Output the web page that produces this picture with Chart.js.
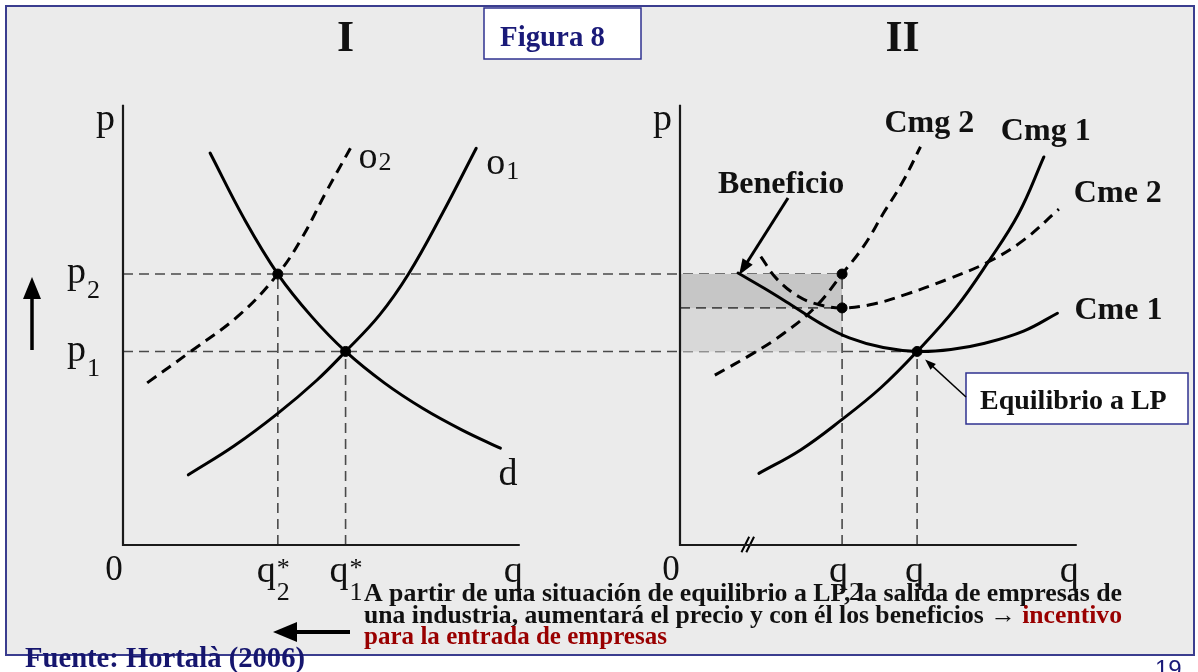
<!DOCTYPE html>
<html lang="es">
<head>
<meta charset="utf-8">
<title>Figura 8</title>
<script src="https://cdn.jsdelivr.net/npm/chart.js@4.4.1/dist/chart.umd.min.js"></script>
<style>
  html, body { margin: 0; padding: 0; background: #ffffff; }
  #wrap { position: relative; width: 1198px; height: 672px; overflow: hidden; }
  #frame { position: absolute; left: 5px; top: 5px; width: 1190px; height: 651px;
           box-sizing: border-box; border: 2px solid #3a3d8f; background: #ebebeb; }
  #c { position: absolute; left: 0; top: 0; }
</style>
</head>
<body>
<div id="wrap">
  <div id="frame"></div>
  <canvas id="c" width="1198" height="672"></canvas>
</div>
<script>
// ---- price levels and quantities ----
const P2 = 5.6;          // higher price after firms leave
const P1 = 4.0;          // long-run equilibrium price
const CME2_MIN = 4.9;    // minimum of Cme 2
const Q2_STAR = 3.2, Q1_STAR = 4.6;   // industry quantities (panel I)
const Q2 = 3.35, Q1 = 4.9;            // firm quantities (panel II)
const AXIS_TOP = 9.1, AXIS_END = 8.2;

// ---- panel I: industry ----
const demandD  = [[1.8, 8.1], [2.5, 6.75], [3.2, 5.6], [3.9, 4.72], [4.6, 4.0], [5.4, 3.35], [6.2, 2.82], [7.0, 2.38], [7.8, 2.0]];
const supplyO1 = [[1.35, 1.45], [2.3, 2.05], [3.2, 2.72], [4.0, 3.4], [4.6, 4.0], [5.3, 4.75], [5.9, 5.6], [6.6, 6.85], [7.3, 8.2]];
const supplyO2 = [[0.5, 3.35], [1.4, 4.0], [2.4, 4.75], [3.2, 5.6], [3.7, 6.35], [4.2, 7.3], [4.7, 8.2]];

// ---- panel II: firm ----
const cme1 = [[1.2, 5.62], [1.75, 5.3], [2.3, 4.96], [2.9, 4.58], [3.5, 4.28], [4.2, 4.08], [4.9, 4.0], [5.6, 4.04], [6.3, 4.17], [7.1, 4.42], [7.8, 4.79]];
const cmg1 = [[1.63, 1.48], [2.5, 1.97], [3.33, 2.58], [4.15, 3.25], [4.9, 4.0], [5.7, 4.9], [6.37, 5.85], [7.0, 6.85], [7.52, 8.02]];
const cme2 = [[1.67, 5.96], [2.0, 5.5], [2.46, 5.13], [2.9, 4.96], [3.35, 4.9], [4.0, 4.98], [4.67, 5.18], [5.5, 5.48], [6.37, 5.85], [7.1, 6.3], [7.83, 6.94]];
const cmg2 = [[0.72, 3.51], [1.51, 3.96], [2.14, 4.37], [2.8, 4.92], [3.35, 5.6], [3.8, 6.18], [4.2, 6.85], [4.6, 7.5], [4.97, 8.23]];

const pointsI  = [[Q2_STAR, P2], [Q1_STAR, P1]];
const pointsII = [[Q2, P2], [Q2, CME2_MIN], [Q1, P1]];

// ---- text ----
const titleI = 'I', titleII = 'II';
const figTitle = 'Figura 8';
const noteLines = [
  [{ t: 'A partir de una situación de equilibrio a LP, la salida de empresas de', c: '#111111' }],
  [{ t: 'una industria, aumentará el precio y con él los beneficios → ', c: '#111111' }, { t: 'incentivo', c: '#990000' }],
  [{ t: 'para la entrada de empresas', c: '#990000' }]
];
const source = 'Fuente: Hortalà (2006)';
const pageNo = '19';

// ---- scale geometry (same units on both axes) ----
const PAD = { left: 123, right: 98, top: 95, bottom: 127 };
const Y_MAX = 9.3;
const UNIT = (672 - PAD.top - PAD.bottom) / Y_MAX;
const X_MAX = (1198 - PAD.left - PAD.right) / UNIT;
const X2_MIN = -557 / UNIT;
const X2_MAX = X_MAX + X2_MIN;

const serif = '"Liberation Serif", "Times New Roman", serif';
const xy = arr => arr.map(([x, y]) => ({ x, y }));

function curve(data, axis, extra) {
  return Object.assign({
    data: xy(data), xAxisID: axis, showLine: true, borderColor: '#000', borderWidth: 3,
    pointRadius: 0, fill: false, clip: false, tension: 0.4, borderCapStyle: 'round'
  }, extra || {});
}
function straight(data, axis, extra) {
  return curve(data, axis, Object.assign({ tension: 0, borderCapStyle: 'butt' }, extra || {}));
}
const GUIDE = { borderColor: '#4a4a4a', borderWidth: 1.6, borderDash: [10, 6] };
const DASH = { borderDash: [11, 7], borderCapStyle: 'butt' };

const datasets = [
  // shaded benefit area
  straight([[0, P2], [Q2, P2]], 'x2', { borderWidth: 0, fill: { value: CME2_MIN }, backgroundColor: '#c6c6c6', order: 10 }),
  straight([[0, CME2_MIN], [Q2, CME2_MIN]], 'x2', { borderWidth: 0, fill: { value: P1 }, backgroundColor: '#d8d8d8', order: 10 }),
  // guides inside each panel
  straight([[Q2_STAR, 0], [Q2_STAR, P2]], 'x', Object.assign({ order: 5 }, GUIDE)),
  straight([[Q1_STAR, 0], [Q1_STAR, P1]], 'x', Object.assign({ order: 5 }, GUIDE)),
  straight([[Q2, 0], [Q2, P2]], 'x2', Object.assign({ order: 5 }, GUIDE)),
  straight([[Q1, 0], [Q1, P1]], 'x2', Object.assign({ order: 5 }, GUIDE)),
  straight([[0, CME2_MIN], [Q2, CME2_MIN]], 'x2', Object.assign({ order: 5 }, GUIDE)),
  // axes
  straight([[0, AXIS_TOP], [0, 0], [AXIS_END, 0]], 'x', { borderColor: '#1a1a1a', borderWidth: 2.2, order: 4 }),
  straight([[0, AXIS_TOP], [0, 0], [AXIS_END, 0]], 'x2', { borderColor: '#1a1a1a', borderWidth: 2.2, order: 4 }),
  // axis break
  straight([[1.27, -0.15], [1.43, 0.17]], 'x2', { borderWidth: 2, order: 4 }),
  straight([[1.37, -0.15], [1.53, 0.17]], 'x2', { borderWidth: 2, order: 4 }),
  // panel I curves
  curve(demandD, 'x', { order: 2 }),
  curve(supplyO1, 'x', { order: 2 }),
  curve(supplyO2, 'x', Object.assign({ order: 2 }, DASH)),
  // panel II curves
  curve(cme1, 'x2', { order: 2 }),
  curve(cmg1, 'x2', { order: 2 }),
  curve(cme2, 'x2', Object.assign({ order: 2 }, DASH)),
  curve(cmg2, 'x2', Object.assign({ order: 2 }, DASH)),
  // equilibrium points
  { data: xy(pointsI), xAxisID: 'x', showLine: false, pointRadius: 5, pointBackgroundColor: '#000', pointBorderColor: '#000', clip: false, order: 0 },
  { data: xy(pointsII), xAxisID: 'x2', showLine: false, pointRadius: 5, pointBackgroundColor: '#000', pointBorderColor: '#000', clip: false, order: 0 }
];

function text(ctx, s, x, y, size, o) {
  o = o || {};
  ctx.save();
  ctx.font = (o.bold ? 'bold ' : '') + size + 'px ' + (o.family || serif);
  ctx.fillStyle = o.color || '#111';
  ctx.textAlign = o.align || 'left';
  ctx.textBaseline = 'alphabetic';
  ctx.fillText(s, x, y);
  const w = ctx.measureText(s).width;
  ctx.restore();
  return w;
}
// letter with optional subscript / superscript
function symbol(ctx, base, sub, sup, x, y, subDy) {
  const w = text(ctx, base, x, y, 38);
  if (sub) text(ctx, sub, x + w + 1, y + (subDy == null ? 18 : subDy), 26);
  if (sup) text(ctx, sup, x + w + 1, y - 6, 26);
}
function arrowHead(ctx, x1, y1, x2, y2, len, half) {
  const a = Math.atan2(y2 - y1, x2 - x1);
  ctx.beginPath();
  ctx.moveTo(x2, y2);
  ctx.lineTo(x2 - len * Math.cos(a) + half * Math.sin(a), y2 - len * Math.sin(a) - half * Math.cos(a));
  ctx.lineTo(x2 - len * Math.cos(a) - half * Math.sin(a), y2 - len * Math.sin(a) + half * Math.cos(a));
  ctx.closePath();
  ctx.fill();
}
function arrow(ctx, x1, y1, x2, y2, width, len, half) {
  const a = Math.atan2(y2 - y1, x2 - x1);
  ctx.save();
  ctx.strokeStyle = '#000'; ctx.fillStyle = '#000'; ctx.lineWidth = width;
  ctx.beginPath(); ctx.moveTo(x1, y1); ctx.lineTo(x2 - len * 0.8 * Math.cos(a), y2 - len * 0.8 * Math.sin(a)); ctx.stroke();
  arrowHead(ctx, x1, y1, x2, y2, len, half);
  ctx.restore();
}
function fittedLine(ctx, parts, x, y, size, width) {
  ctx.save();
  ctx.font = 'bold ' + size + 'px ' + serif;
  const total = parts.reduce((s, p) => s + ctx.measureText(p.t).width, 0);
  ctx.translate(x, y);
  ctx.scale(width / total, 1);
  let cx = 0;
  parts.forEach(p => { ctx.fillStyle = p.c; ctx.fillText(p.t, cx, 0); cx += ctx.measureText(p.t).width; });
  ctx.restore();
}

const crossGuides = {
  id: 'crossGuides',
  beforeDatasetsDraw(chart) {
    const { ctx } = chart, s = chart.scales;
    ctx.save();
    ctx.strokeStyle = GUIDE.borderColor; ctx.lineWidth = GUIDE.borderWidth; ctx.setLineDash(GUIDE.borderDash);
    // p2 and p1 run from the industry axis across to the firm's quantities
    ctx.beginPath();
    ctx.moveTo(s.x.getPixelForValue(0), s.y.getPixelForValue(P2));
    ctx.lineTo(s.x2.getPixelForValue(Q2), s.y.getPixelForValue(P2));
    ctx.moveTo(s.x.getPixelForValue(0), s.y.getPixelForValue(P1));
    ctx.lineTo(s.x2.getPixelForValue(Q1), s.y.getPixelForValue(P1));
    ctx.stroke();
    ctx.restore();
  }
};

const annotations = {
  id: 'annotations',
  afterDatasetsDraw(chart) {
    const { ctx } = chart, s = chart.scales;
    const X1 = v => s.x.getPixelForValue(v), X2 = v => s.x2.getPixelForValue(v), Y = v => s.y.getPixelForValue(v);

    // panel titles
    text(ctx, titleI, X1(4.6), 51, 44, { bold: true, align: 'center' });
    text(ctx, titleII, X2(4.6), 51, 44, { bold: true, align: 'center' });

    // panel I axis labels
    symbol(ctx, 'p', null, null, X1(0) - 27, Y(AXIS_TOP) + 25);
    symbol(ctx, 'p', '2', null, X1(0) - 56, Y(P2) + 9, 15);
    symbol(ctx, 'p', '1', null, X1(0) - 56, Y(P1) + 10, 15);
    text(ctx, '0', X1(0) - 9, Y(0) + 35, 35, { align: 'center' });
    symbol(ctx, 'q', '2', '*', X1(Q2_STAR) - 21, Y(0) + 37);
    symbol(ctx, 'q', '1', '*', X1(Q1_STAR) - 16, Y(0) + 37);
    symbol(ctx, 'q', null, null, X1(AXIS_END) - 16, Y(0) + 37);

    // panel I curve labels
    const o2End = supplyO2[supplyO2.length - 1], o1End = supplyO1[supplyO1.length - 1], dEnd = demandD[demandD.length - 1];
    symbol(ctx, 'o', '2', null, X1(o2End[0]) + 8, Y(o2End[1]) + 20, 2);
    symbol(ctx, 'o', '1', null, X1(o1End[0]) + 10, Y(o1End[1]) + 26, 5);
    symbol(ctx, 'd', null, null, X1(dEnd[0]) - 2, Y(dEnd[1]) + 37);

    // panel II axis labels
    symbol(ctx, 'p', null, null, X2(0) - 27, Y(AXIS_TOP) + 25);
    text(ctx, '0', X2(0) - 9, Y(0) + 35, 35, { align: 'center' });
    symbol(ctx, 'q', '2', null, X2(Q2) - 13, Y(0) + 37);
    symbol(ctx, 'q', '1', null, X2(Q1) - 12, Y(0) + 37);
    symbol(ctx, 'q', null, null, X2(AXIS_END) - 17, Y(0) + 37);

    // panel II curve labels
    const lbl = (arr, t, dx, dy) => { const e = arr[arr.length - 1]; text(ctx, t, X2(e[0]) + dx, Y(e[1]) + dy, 32, { bold: true }); };
    lbl(cmg2, 'Cmg 2', -36, -15);
    lbl(cmg1, 'Cmg 1', -43, -17);
    lbl(cme2, 'Cme 2', 15, -7);
    lbl(cme1, 'Cme 1', 17, 6);

    // Beneficio label and pointer
    text(ctx, 'Beneficio', 718, 193, 32, { bold: true });
    arrow(ctx, 788, 198, X2(cme1[0][0]) + 1, Y(P2) + 1, 3, 16, 6);

    // Equilibrio a LP box and pointer
    ctx.save();
    ctx.fillStyle = '#ffffff'; ctx.strokeStyle = '#2f3290'; ctx.lineWidth = 1.5;
    ctx.fillRect(966, 373, 222, 51); ctx.strokeRect(966, 373, 222, 51);
    ctx.restore();
    text(ctx, 'Equilibrio a LP', 980, 409, 28, { bold: true });
    arrow(ctx, 966, 397, X2(Q1) + 8, Y(P1) + 8, 1.5, 11, 4);

    // Figura 8 box
    ctx.save();
    ctx.fillStyle = '#ffffff'; ctx.strokeStyle = '#2f3290'; ctx.lineWidth = 1.5;
    ctx.fillRect(484, 8, 157, 51); ctx.strokeRect(484, 8, 157, 51);
    ctx.restore();
    fittedLine(ctx, [{ t: figTitle, c: '#1a1a78' }], 500, 46, 29, 105);

    // direction arrows
    arrow(ctx, 32, 350, 32, 277, 3.5, 22, 9);
    arrow(ctx, 350, 632, 273, 632, 4, 24, 10);

    // note
    fittedLine(ctx, noteLines[0], 364, 601, 25, 758);
    fittedLine(ctx, noteLines[1], 364, 623, 25, 758);
    fittedLine(ctx, noteLines[2], 364, 644, 25, 303);

    // source and page number
    fittedLine(ctx, [{ t: source, c: '#16166e' }], 25, 667, 29, 280);
    text(ctx, pageNo, 1155, 677, 24, { family: '"Liberation Sans", Arial, sans-serif', color: '#1a1a78' });
  }
};

new Chart(document.getElementById('c'), {
  type: 'scatter',
  data: { datasets },
  options: {
    responsive: false,
    animation: false,
    events: [],
    layout: { padding: PAD },
    plugins: { legend: { display: false }, tooltip: { enabled: false } },
    scales: {
      x:  { type: 'linear', min: 0, max: X_MAX, display: false },
      x2: { type: 'linear', axis: 'x', min: X2_MIN, max: X2_MAX, display: false },
      y:  { type: 'linear', min: 0, max: Y_MAX, display: false }
    }
  },
  plugins: [crossGuides, annotations]
});
</script>
</body>
</html>
